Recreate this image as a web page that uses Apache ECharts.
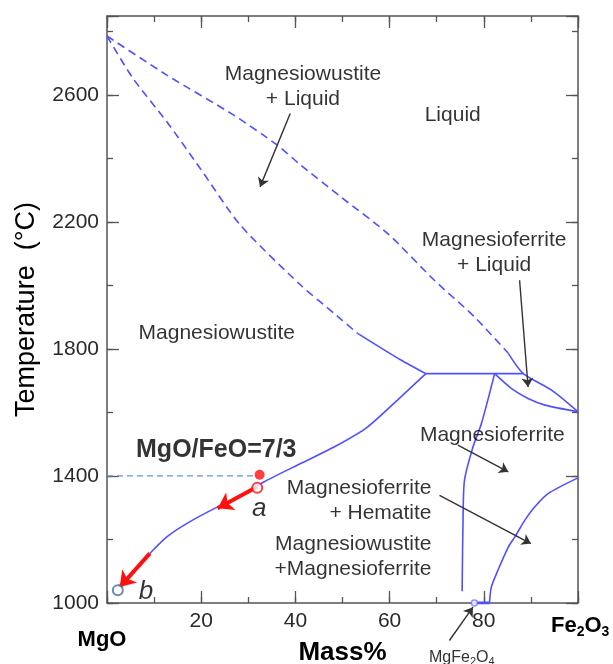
<!DOCTYPE html>
<html><head><meta charset="utf-8">
<script src="https://cdn.jsdelivr.net/npm/echarts@6/dist/echarts.min.js"></script>
<style>html,body{margin:0;padding:0;background:#fff}#c{width:613px;height:664px}</style>
</head><body><div id="c"></div>
<script>
// ---- data (mass% Fe2O3, temperature °C) ----
const liquidusDashed = [[0,2785],[12.7,2662],[26.9,2536],[36.1,2442],[41.1,2379],[49.6,2279],[59.6,2163],[69.5,2016],[78.0,1901],[85.2,1786]];
const liquidusSolid = [[85.2,1786],[88.4,1722],[94.4,1670],[100,1602]];
const solidusDashed = [[0,2785],[5.5,2652],[12.7,2515],[19.8,2368],[28.3,2190],[41.1,2001],[48.2,1912],[53.2,1849]];
const solidusSolid = [[53.2,1849],[62.4,1765],[67.7,1722]];
const peritectic = [[67.7,1722],[88.4,1722]];
const mfSolidus = [[82.3,1722],[85.9,1675],[89.4,1644],[93.0,1623],[100,1602]];
const mwSolvus = [[67.7,1722],[62.4,1649],[55.3,1554],[48.2,1491],[41.1,1439],[33.3,1381],[26.9,1324],[23.3,1301],[16.9,1250],[12.7,1208],[9.1,1156]];
const mfSolvusLeft = [[82.3,1722],[79.5,1565],[77.7,1491],[75.9,1386],[75.6,1271],[75.4,1037]];
const mfSolvusRight = [[100,1394],[93.7,1345],[90.8,1302],[88.7,1260],[86.6,1208],[85.2,1176],[83.0,1103],[81.6,1050],[81.2,1000]];
const mgfe2o4Segment = [[78,1000],[81.2,1000]];
const isotherm1400 = [[0,1400],[31,1400]];
const redArrows = [[[31.9,1366],[23.5,1298]],[[9.1,1156],[2.7,1050]]];
const pointStart = [32.4,1404];
const pointA = [31.9,1363];
const pointB = [2.3,1040];
const pointMgFe2O4 = [78,1000];
const pointerArrows = [
  [[38.9,2541],[32.5,2310]],
  [[87.6,2016],[89.4,1680]],
  [[74.5,1497],[85.2,1413]],
  [[70.6,1339],[90.0,1187]],
  [[72.7,882],[77.7,987]]
];
const xTicks = [20,40,60,80];
const yTicks = [1000,1400,1800,2200,2600];
const labelsCenter = [
  {name:'Magnesiowustite\n+ Liquid', value:[41.6,2625]},
  {name:'Liquid', value:[73.4,2536]},
  {name:'Magnesioferrite\n+ Liquid', value:[82.2,2103]},
  {name:'Magnesiowustite', value:[23.3,1849]},
  {name:'Magnesioferrite', value:[81.8,1528]}
];
const labelsRight = [
  {name:'Magnesioferrite\n+ Hematite', value:[68.9,1323]},
  {name:'Magnesiowustite\n+Magnesioferrite', value:[68.9,1147]}
];
const ratioLabel = {name:'MgO/FeO=7/3', value:[23.2,1481]};
const italicLabels = [{name:'a', value:[32.3,1298]},{name:'b', value:[8.3,1034]}];

const FONT = '"Liberation Sans", Arial, sans-serif';
const BLUE = '#5050ff';
const AX = '#555';

function lineS(data, dashed, smooth){
  return {type:'line', data:data, xAxisIndex:0, yAxisIndex:0, showSymbol:false, symbol:'none',
    smooth: smooth===undefined?0.25:smooth, silent:true, z:3,
    lineStyle:{color:BLUE, width:1.6, type: dashed?[8,5]:'solid'}};
}
function xAx(pos, interval, len, showLabel, showLine){
  return {type:'value', position:pos, min:0, max:100, interval:interval,
    axisLine:{show:showLine, onZero:false, lineStyle:{color:AX, width:1.5}},
    axisTick:{show:true, inside:true, length:len, lineStyle:{color:AX, width:1.3}},
    axisLabel:{show:showLabel, margin:8, color:'#2a2a2a', fontSize:21, fontFamily:FONT,
      formatter:v=> xTicks.includes(v)?String(v):''},
    splitLine:{show:false}};
}
function yAx(pos, interval, len, showLabel, showLine){
  return {type:'value', position:pos, min:1000, max:2848, interval:interval,
    axisLine:{show:showLine, onZero:false, lineStyle:{color:AX, width:1.5}},
    axisTick:{show:true, inside:true, length:len, lineStyle:{color:AX, width:1.3}},
    axisLabel:{show:showLabel, margin:8, color:'#2a2a2a', fontSize:21, fontFamily:FONT,
      formatter:v=> yTicks.includes(v)?String(v):''},
    splitLine:{show:false}};
}
const xMain = xAx('bottom',20,12,true,true);
xMain.name = 'Mass%'; xMain.nameLocation='middle'; xMain.nameGap=37;
xMain.nameTextStyle = {fontSize:26, fontWeight:'bold', color:'#000', fontFamily:FONT};
const yMain = yAx('left',400,12,true,true);
yMain.name = 'Temperature  (°C)'; yMain.nameLocation='middle'; yMain.nameGap=67; yMain.nameRotate=90;
yMain.nameTextStyle = {fontSize:27, color:'#000', fontFamily:FONT};

const chart = echarts.init(document.getElementById('c'), null, {renderer:'canvas'});
chart.setOption({
  animation:false,
  backgroundColor:'#fff',
  grid:{left:107, top:16, right:35, bottom:61, containLabel:false, outerBoundsMode:'none'},
  xAxis:[xMain, xAx('bottom',10,6,false,false), xAx('top',20,12,false,true), xAx('top',10,6,false,false)],
  yAxis:[yMain, yAx('left',200,6,false,false), yAx('right',400,12,false,true), yAx('right',200,6,false,false)],
  graphic:[
    {type:'text', x:102, y:640, style:{text:'MgO', font:'bold 22px '+FONT, fill:'#000', align:'center', verticalAlign:'middle'}},
    {type:'text', x:551, y:612, style:{text:'{b|Fe}{s|2}{b|O}{s|3}', fill:'#000', align:'left', verticalAlign:'top',
      rich:{b:{fontSize:22, fontWeight:'bold', fontFamily:FONT, lineHeight:28}, s:{fontSize:14, fontWeight:'bold', fontFamily:FONT, lineHeight:28, padding:[12,0,0,0]}}}},
    {type:'text', x:429, y:648, style:{text:'{b|MgFe}{s|2}{b|O}{s|4}', fill:'#333', align:'left', verticalAlign:'top',
      rich:{b:{fontSize:16, fontFamily:FONT, lineHeight:20}, s:{fontSize:11, fontFamily:FONT, lineHeight:20, padding:[8,0,0,0]}}}}
  ],
  series:[
    lineS(liquidusDashed,true),
    lineS(liquidusSolid,false),
    lineS(solidusDashed,true),
    lineS(solidusSolid,false),
    lineS(peritectic,false,false),
    lineS(mfSolidus,false),
    lineS(mwSolvus,false),
    lineS(mfSolvusLeft,false),
    lineS(mfSolvusRight,false),
    {type:'line', data:mgfe2o4Segment, xAxisIndex:0, yAxisIndex:0, symbol:'none', lineStyle:{color:BLUE, width:3}, z:4},
    {type:'line', data:isotherm1400, xAxisIndex:0, yAxisIndex:0, symbol:'none', lineStyle:{color:'#5b9bd5', width:1.3, type:[6,4]}, z:2},
    {type:'lines', coordinateSystem:'cartesian2d', xAxisIndex:0, yAxisIndex:0, clip:false, z:6,
      symbol:['none','arrow'], symbolSize:15,
      lineStyle:{color:'#ff1010', width:4, opacity:1},
      data: redArrows.map(c=>({coords:c}))},
    {type:'lines', coordinateSystem:'cartesian2d', xAxisIndex:0, yAxisIndex:0, clip:false, z:5,
      symbol:['none','arrow'], symbolSize:9,
      lineStyle:{color:'#333', width:1.4, opacity:1},
      data: pointerArrows.map(c=>({coords:c}))},
    {type:'scatter', xAxisIndex:0, yAxisIndex:0, z:7, silent:true,
      data:[
        {value:pointStart, symbolSize:10, itemStyle:{color:'#ff1010'}},
        {value:pointA, symbolSize:10, itemStyle:{color:'#fff', borderColor:'#ff1010', borderWidth:2}},
        {value:pointB, symbolSize:10, itemStyle:{color:'#fff', borderColor:'#41719c', borderWidth:2}},
        {value:pointMgFe2O4, symbolSize:6, itemStyle:{color:'#fff', borderColor:'#7070ff', borderWidth:1.5}}
      ]},
    {type:'scatter', xAxisIndex:0, yAxisIndex:0, symbolSize:0, z:8, silent:true,
      label:{show:true, position:'inside', formatter:p=>p.name, fontSize:21, color:'#000', fontFamily:FONT, lineHeight:25, align:'center', verticalAlign:'middle'},
      data:labelsCenter},
    {type:'scatter', xAxisIndex:0, yAxisIndex:0, symbolSize:0, z:8, silent:true,
      label:{show:true, position:'inside', formatter:p=>p.name, fontSize:21, color:'#000', fontFamily:FONT, lineHeight:25, align:'right', verticalAlign:'middle'},
      data:labelsRight},
    {type:'scatter', xAxisIndex:0, yAxisIndex:0, symbolSize:0, z:8, silent:true,
      label:{show:true, position:'inside', formatter:p=>p.name, fontSize:25, fontWeight:'bold', color:'#000', fontFamily:FONT, align:'center', verticalAlign:'middle'},
      data:[ratioLabel]},
    {type:'scatter', xAxisIndex:0, yAxisIndex:0, symbolSize:0, z:8, silent:true,
      label:{show:true, position:'inside', formatter:p=>p.name, fontSize:26, fontStyle:'italic', color:'#000', fontFamily:FONT, align:'center', verticalAlign:'middle'},
      data:italicLabels}
  ]
});
</script></body></html>
